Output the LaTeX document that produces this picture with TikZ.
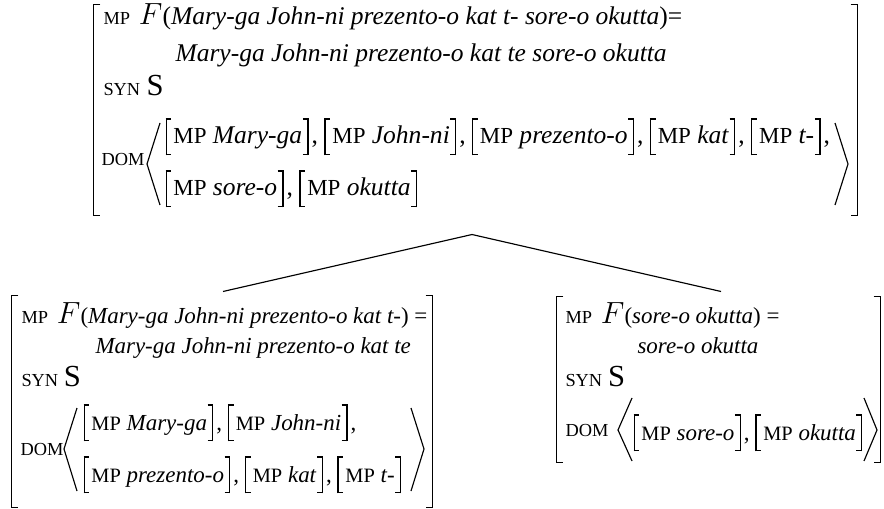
\documentclass[tikz,border=0pt]{standalone}
\usepackage{fontspec}
\setmainfont{Liberation Serif}
\usetikzlibrary{calc, fit}

\newcommand\mpfont{\small}
\newcommand\feat[1]{{\fontsize{7.2}{8}\selectfont #1}}
\newcommand\lbrk{\rlap{\rule[9.5pt]{2.3pt}{0.5pt}}\rlap{\rule[-4.5pt]{2.3pt}{0.5pt}}\rule[-4.5pt]{0.5pt}{14.5pt}}
\newcommand\rbrk{\rule[-4.5pt]{0.5pt}{14.5pt}\llap{\rule[9.5pt]{2.3pt}{0.5pt}}\llap{\rule[-4.5pt]{2.3pt}{0.5pt}}}
\newcommand\mpitem[1]{\lbrk\kern2.6pt{\mpfont MP} \textit{#1\/}\kern2pt\rbrk}
\newcommand\mpitemc[1]{\mpitem{#1}\kern1.2pt,}
\newcommand\avmbrackets[1]{%
  \draw[brack] ([xshift=2.7pt]#1.north west) -- (#1.north west) -- (#1.south west) -- ([xshift=2.7pt]#1.south west);
  \draw[brack] ([xshift=-2.7pt]#1.north east) -- (#1.north east) -- (#1.south east) -- ([xshift=-2.7pt]#1.south east);}

\tikzset{
  lbl/.style={anchor=base west, inner sep=0pt},
  avm/.style={inner sep=0pt, draw=none},
  brack/.style={line width=0.75pt},
  angl/.style={line width=0.45pt, line join=miter},
  tree/.style={line width=0.45pt}
}

\begin{document}
\begin{tikzpicture}[x=0.392pt, y=-0.392pt]
            \useasboundingbox (0,0) rectangle (884,509);
            % mother
            \node[avm, fit={(94,5) (857,215)}] (avmT) {};
            \avmbrackets{avmT}
            \node[lbl] (mpT) at (103,25) {\feat{MP}\hspace{3.5pt}{\large$F$}(\textit{Mary-ga John-ni prezento-o kat t- sore-o okutta})=};
            \node[lbl] (valT) at (175,62) {\textit{Mary-ga John-ni prezento-o kat te sore-o okutta}};
            \node[lbl] (synT) at (103,96) {\feat{SYN} {\large$\mathrm{S}$}};
            \node[lbl] (domT) at (101,166) {\feat{DOM}};
            \node[lbl] (rowTa) at (165,144) {\mpitemc{Mary-ga} \mpitemc{John-ni} \mpitemc{prezento-o} \mpitemc{kat} \mpitemc{t-}};
            \node[lbl] (rowTb) at (165,196) {\mpitemc{sore-o} \mpitem{okutta}};
            \draw[angl] (160,123) -- (147,164) -- (160,205);
            \draw[angl] (835,123) -- (848,164) -- (835,205);
            % left daughter
            \node[avm, fit={(12,296) (432,507)}] (avmL) {};
            \avmbrackets{avmL}
            \begin{scope}[font=\small]
            \renewcommand\mpfont{\footnotesize}
            \node[lbl] (mpL) at (21,323) {\feat{MP}\hspace{3.5pt}{\large$F$}(\textit{Mary-ga John-ni prezento-o kat t-}) =};
            \node[lbl] (valL) at (95,353) {\textit{Mary-ga John-ni prezento-o kat te}};
            \node[lbl] (synL) at (21,386) {\feat{SYN} {\large$\mathrm{S}$}};
            \node[lbl] (domL) at (20,455) {\feat{DOM}};
            \node[lbl] (rowLa) at (83,430) {\mpitemc{Mary-ga} \mpitemc{John-ni}};
            \node[lbl] (rowLb) at (83,482) {\mpitemc{prezento-o} \mpitemc{kat} \mpitem{t-}};
            \end{scope}
            \draw[angl] (77,408) -- (64,449) -- (77,491);
            \draw[angl] (411,408) -- (424,449) -- (411,491);
            % right daughter
            \node[avm, fit={(557,297) (880,462)}] (avmR) {};
            \avmbrackets{avmR}
            \begin{scope}[font=\small]
            \renewcommand\mpfont{\footnotesize}
            \node[lbl] (mpR) at (565,323) {\feat{MP}\hspace{3.5pt}{\large$F$}(\textit{sore-o okutta}) =};
            \node[lbl] (valR) at (637,353) {\textit{sore-o okutta}};
            \node[lbl] (synR) at (565,386) {\feat{SYN} {\large$\mathrm{S}$}};
            \node[lbl] (domR) at (565,436) {\feat{DOM}};
            \node[lbl] (rowR) at (633,440) {\mpitemc{sore-o} \mpitem{okutta}};
            \end{scope}
            \draw[angl] (632,398) -- (618,430) -- (632,461);
            \draw[angl] (864,398) -- (877,430) -- (864,461);
            % branches
            \coordinate (apex) at ([shift={(-3.5,19)}]avmT.south);
            \draw[tree] (apex) -- ([shift={(1,-4)}]avmL.north);
            \draw[tree] (apex) -- ([shift={(2.5,-5)}]avmR.north);
        \end{tikzpicture}
\end{document}
